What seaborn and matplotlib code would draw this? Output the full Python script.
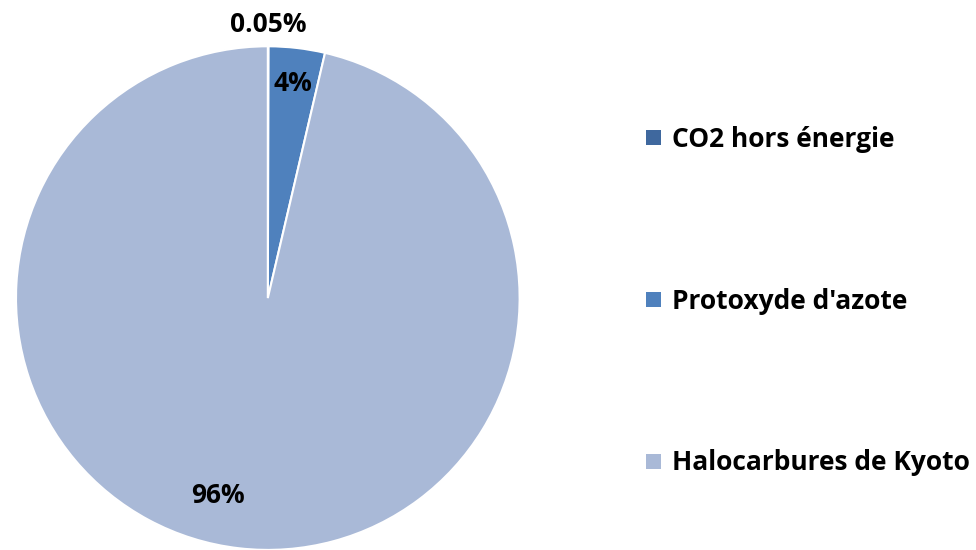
import matplotlib
matplotlib.use("Agg")
import matplotlib.pyplot as plt
import seaborn as sns
import numpy as np
from matplotlib.patches import Patch

categories = ["CO2 hors énergie", "Protoxyde d'azote", "Halocarbures de Kyoto"]
values = [0.05, 3.6, 96.35]
colors = ["#3F689E", "#4F81BD", "#A9B9D7"]

sns.set_theme(style="white")
plt.rcParams['font.family'] = ['Open Sans', 'DejaVu Sans']
plt.rcParams['text.color'] = 'black'

fig = plt.figure(figsize=(9.76, 5.5), dpi=100)
ax = fig.add_axes([0.0164, 0.0, 0.516, 0.916])
wedges, _ = ax.pie(values, colors=colors, startangle=90, counterclock=False,
                   wedgeprops=dict(edgecolor="white", linewidth=1.5))
ax.set_aspect("equal")
ax.set_xlim(-1, 1)
ax.set_ylim(-1, 1)

def fmt(v):
    return f"{v:.2f}%" if v < 1 else f"{v:.0f}%"

dists = [1.085, 0.86, 0.81]
offsets = [0, 0, -7.5]
for w, v, d, o in zip(wedges, values, dists, offsets):
    ang = np.deg2rad((w.theta1 + w.theta2) / 2 + o)
    x, y = d * np.cos(ang), d * np.sin(ang)
    ax.text(x, y, fmt(v), ha="center", va="center", fontsize=19, fontweight="bold", color="black")

handles = [Patch(facecolor=c, edgecolor="none") for c in colors]
leg = fig.legend(handles, categories, loc="center left", bbox_to_anchor=(0.662, 0.452),
                 frameon=False, prop=dict(size=19, weight="bold"), labelspacing=5.1,
                 handlelength=0.58, handleheight=0.5, handletextpad=0.4,
                 borderpad=0, borderaxespad=0)
for t in leg.get_texts():
    t.set_color("black")
fig.savefig("out.png", dpi=100)
